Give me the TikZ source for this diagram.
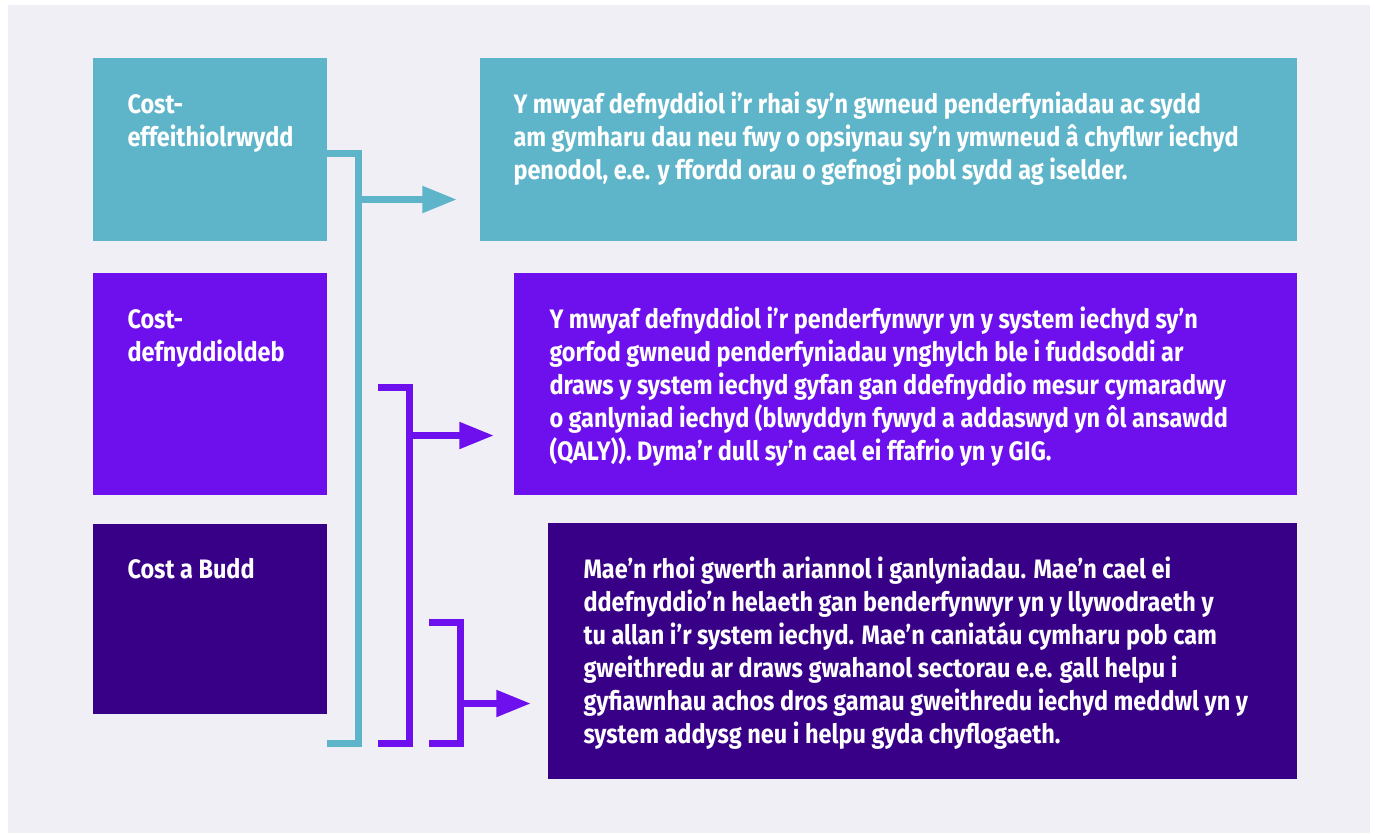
\documentclass[tikz,border=0pt]{standalone}
\usepackage{fontspec}
\setmainfont[FakeStretch=0.88]{Fira Sans}
\usetikzlibrary{arrows.meta}

\definecolor{bggray}{HTML}{F0EFF6}
\definecolor{ceteal}{HTML}{5EB4C9}
\definecolor{cuviolet}{HTML}{6E0FED}
\definecolor{cbpurple}{HTML}{380087}

\newcommand\firstlinestrut{\rule{0pt}{18pt}}

\tikzset{every picture/.style={line width=0.75pt}}

\begin{document}
\begin{tikzpicture}[x=0.75pt,y=0.75pt,yscale=-1,xscale=1,
  boxtext/.style={anchor=north west,inner sep=0pt,align=left,text=white,
    font=\bfseries\fontsize{20}{24.75}\selectfont},
  bracket/.style={line width=5.25pt},
  pointer/.style={bracket,-{Triangle[length=26pt,width=19pt]}}]
\useasboundingbox (0,0) rectangle (1375,833);
\fill[white] (0,0) rectangle (1375,833);
\fill[bggray] (8,5) rectangle (1370,833);

%Shape: Rectangle [left column]
\fill[ceteal] (93,58) rectangle (327,241);
\fill[cuviolet] (93,273) rectangle (327,495);
\fill[cbpurple] (93,524) rectangle (327,714);
%Shape: Rectangle [right column]
\fill[ceteal] (480,58) rectangle (1297,241);
\fill[cuviolet] (514,273) rectangle (1297,495);
\fill[cbpurple] (548,523) rectangle (1297,779);

% Text Node
\node[boxtext] (cea) at (127,89) {\firstlinestrut Cost-\\effeithiolrwydd};
% Text Node
\node[boxtext] (cua) at (127,304) {\firstlinestrut Cost-\\defnyddioldeb};
% Text Node
\node[boxtext] (cba) at (127,554) {\firstlinestrut Cost a Budd};
% Text Node
\node[boxtext] (ceadesc) at (513,89) {\firstlinestrut Y mwyaf defnyddiol i’r rhai sy’n gwneud penderfyniadau ac sydd\\
am gymharu dau neu fwy o opsiynau sy’n ymwneud â chyflwr iechyd\\
penodol, e.e. y ffordd orau o gefnogi pobl sydd ag iselder.};
% Text Node
\node[boxtext] (cuadesc) at (549,304) {\firstlinestrut Y mwyaf defnyddiol i’r penderfynwyr yn y system iechyd sy’n\\
gorfod gwneud penderfyniadau ynghylch ble i fuddsoddi ar\\
draws y system iechyd gyfan gan ddefnyddio mesur cymaradwy\\
o ganlyniad iechyd (blwyddyn fywyd a addaswyd yn ôl ansawdd\\
(QALY)). Dyma’r dull sy’n cael ei ffafrio yn y GIG.};
% Text Node
\node[boxtext] (cbadesc) at (583,554) {\firstlinestrut Mae’n rhoi gwerth ariannol i ganlyniadau. Mae’n cael ei\\
ddefnyddio’n helaeth gan benderfynwyr yn y llywodraeth y\\
tu allan i’r system iechyd. Mae’n caniatáu cymharu pob cam\\
gweithredu ar draws gwahanol sectorau e.e. gall helpu i\\
gyfiawnhau achos dros gamau gweithredu iechyd meddwl yn y\\
system addysg neu i helpu gyda chyflogaeth.};

% Bracket coordinates
\coordinate (ceatop) at (327,153);
\coordinate (ceabot) at (327,743);
\coordinate (ceajoin) at (358,199.5);
\coordinate (ceatip) at (457,199.5);
\coordinate (cuatop) at (378,387.5);
\coordinate (cuabot) at (378,743);
\coordinate (cuajoin) at (409,435.5);
\coordinate (cuatip) at (494,435.5);
\coordinate (cbatop) at (429,622.5);
\coordinate (cbabot) at (429,743);
\coordinate (cbajoin) at (460,703.5);
\coordinate (cbatip) at (531,703.5);

%Bracket: cost-effeithiolrwydd
\draw[bracket,ceteal] (ceatop) -| (ceajoin) |- (ceabot);
\draw[pointer,ceteal] (ceajoin) -- (ceatip);
%Bracket: cost-defnyddioldeb
\draw[bracket,cuviolet] (cuatop) -| (cuajoin) |- (cuabot);
\draw[pointer,cuviolet] (cuajoin) -- (cuatip);
%Bracket: cost a budd
\draw[bracket,cuviolet] (cbatop) -| (cbajoin) |- (cbabot);
\draw[pointer,cuviolet] (cbajoin) -- (cbatip);

\end{tikzpicture}
\end{document}
